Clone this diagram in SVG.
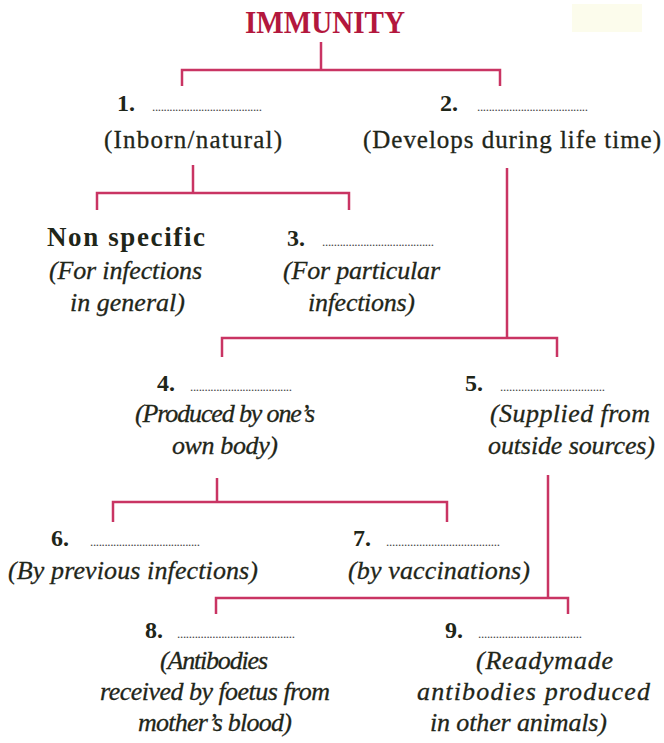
<svg xmlns="http://www.w3.org/2000/svg" width="664" height="743" viewBox="0 0 664 743">
<style>
text{font-family:"Liberation Serif","Times New Roman",serif;fill:#1f2619}
.title{font-size:32px;font-weight:bold;fill:#b3173d}
.num{font-size:24px;font-weight:bold}
.dots{font-size:13px;fill:#444}
.reg{font-size:25px;stroke:#1f2619;stroke-width:0.3}
.it{font-size:26px;font-style:italic;stroke:#1f2619;stroke-width:0.3}
.bold{font-size:27px;font-weight:bold}
.conn path{fill:none;stroke:#c93463;stroke-width:2.5}
</style>
<rect width="664" height="743" fill="#ffffff"/>
<rect x="572" y="4" width="70" height="28" fill="#fcfcec"/>
<g id="title"><text class="title" x="245" y="33" textLength="160" lengthAdjust="spacingAndGlyphs">IMMUNITY</text></g>
<g class="conn" id="connectors">
<path d="M321,42 V70 M182,86 V70 H500 V86"/>
<path d="M193,165 V193 M97,210 V193 H349 V210"/>
<path d="M507,168 V338 M222,357 V338 H557 V357"/>
<path d="M217,478 V502 M113,522 V502 H447 V522"/>
<path d="M548,475 V598 M216,614 V598 H568 V614"/>
</g>
<g id="node1">
<text class="num" x="117" y="111">1.</text>
<text class="dots" x="152" y="111" textLength="110">......................................</text>
<text class="reg" x="104" y="148" textLength="178">(Inborn/natural)</text>
</g>
<g id="node2">
<text class="num" x="440" y="111">2.</text>
<text class="dots" x="477" y="111" textLength="111">......................................</text>
<text class="reg" x="363" y="148" textLength="298">(Develops during life time)</text>
</g>
<g id="nonspecific">
<text class="bold" x="47" y="246" textLength="158">Non specific</text>
<text class="it" x="49" y="279" textLength="153">(For infections</text>
<text class="it" x="70" y="311" textLength="115">in general)</text>
</g>
<g id="node3">
<text class="num" x="287" y="246">3.</text>
<text class="dots" x="322" y="246" textLength="112">......................................</text>
<text class="it" x="283" y="279" textLength="157">(For particular</text>
<text class="it" x="308" y="311" textLength="107">infections)</text>
</g>
<g id="node4">
<text class="num" x="157" y="391">4.</text>
<text class="dots" x="190" y="391" textLength="102">...................................</text>
<text class="it" x="135" y="422" textLength="180">(Produced by one’s</text>
<text class="it" x="172" y="454" textLength="106">own body)</text>
</g>
<g id="node5">
<text class="num" x="465" y="391">5.</text>
<text class="dots" x="500" y="391" textLength="105">...................................</text>
<text class="it" x="490" y="422" textLength="160">(Supplied from</text>
<text class="it" x="488" y="454" textLength="167">outside sources)</text>
</g>
<g id="node6">
<text class="num" x="51" y="546">6.</text>
<text class="dots" x="90" y="546" textLength="110">......................................</text>
<text class="it" x="8" y="579" textLength="250">(By previous infections)</text>
</g>
<g id="node7">
<text class="num" x="353" y="546">7.</text>
<text class="dots" x="386" y="546" textLength="114">......................................</text>
<text class="it" x="348" y="579" textLength="182">(by vaccinations)</text>
</g>
<g id="node8">
<text class="num" x="145" y="638">8.</text>
<text class="dots" x="177" y="638" textLength="118">........................................</text>
<text class="it" x="160" y="669" textLength="108">(Antibodies</text>
<text class="it" x="100" y="700" textLength="230">received by foetus from</text>
<text class="it" x="138" y="731" textLength="154">mother’s blood)</text>
</g>
<g id="node9">
<text class="num" x="445" y="638">9.</text>
<text class="dots" x="478" y="638" textLength="104">...................................</text>
<text class="it" x="476" y="669" textLength="137">(Readymade</text>
<text class="it" x="417" y="700" textLength="233">antibodies produced</text>
<text class="it" x="430" y="731" textLength="177">in other animals)</text>
</g>
</svg>
